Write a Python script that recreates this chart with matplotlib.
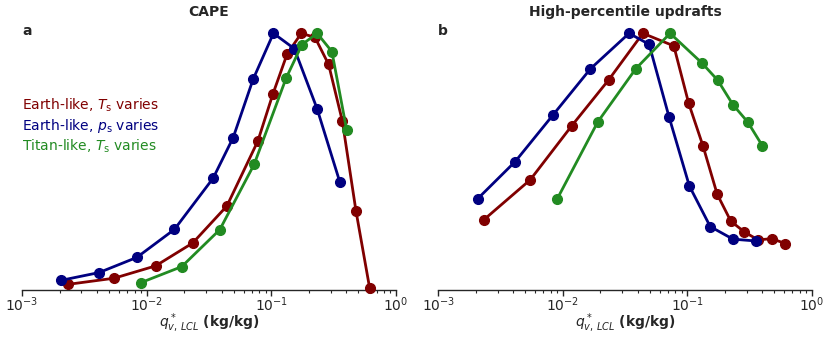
import matplotlib
matplotlib.use("Agg")
import matplotlib.pyplot as plt
import numpy as np

# x positions (q*_v,LCL, kg/kg)
x_earth_ts = [0.00233, 0.00548, 0.0118, 0.0234, 0.0440, 0.0780, 0.1028, 0.134, 0.174, 0.224, 0.288, 0.371, 0.477, 0.614]
x_earth_ps = [0.00207, 0.00415, 0.00834, 0.0167, 0.0341, 0.0494, 0.0714, 0.104, 0.153, 0.233, 0.355]
x_titan_ts = [0.00901, 0.0191, 0.0386, 0.0728, 0.1315, 0.176, 0.233, 0.306, 0.402]

# normalized CAPE
cape_earth_ts = [0.023, 0.047, 0.095, 0.184, 0.328, 0.581, 0.763, 0.920, 1.0, 0.984, 0.879, 0.659, 0.310, 0.010]
cape_earth_ps = [0.039, 0.069, 0.128, 0.237, 0.436, 0.594, 0.821, 1.0, 0.940, 0.706, 0.420]
cape_titan_ts = [0.030, 0.092, 0.236, 0.490, 0.826, 0.956, 1.0, 0.929, 0.624]

# normalized high-percentile updrafts
w_earth_ts = [0.275, 0.430, 0.640, 0.819, 1.0, 0.951, 0.727, 0.561, 0.374, 0.269, 0.227, 0.196, 0.201, 0.182]
w_earth_ps = [0.356, 0.501, 0.682, 0.862, 1.0, 0.957, 0.675, 0.406, 0.248, 0.199, 0.192]
w_titan_ts = [0.355, 0.655, 0.862, 1.0, 0.884, 0.817, 0.722, 0.655, 0.562]

labels = [r"Earth-like, $T_\mathrm{s}$ varies",
          r"Earth-like, $p_\mathrm{s}$ varies",
          r"Titan-like, $T_\mathrm{s}$ varies"]
colors = ["#800000", "#000080", "#228B22"]

fig = plt.figure(figsize=(8.3, 3.4), dpi=100)
W, H = 830, 340
bottom = (H - 290.3) / H
top = (H - 24) / H
ax1 = fig.add_axes([22 / W, bottom, (396 - 22) / W, top - bottom])
ax2 = fig.add_axes([438.3 / W, bottom, (811.7 - 438.3) / W, top - bottom])

textc = "#262626"
datasets = [
    (ax1, [cape_earth_ts, cape_earth_ps, cape_titan_ts], "CAPE", "a"),
    (ax2, [w_earth_ts, w_earth_ps, w_titan_ts], "High-percentile updrafts", "b"),
]
xs = [x_earth_ts, x_earth_ps, x_titan_ts]
for ax, ys, title, lab in datasets:
    for x, y, c in zip(xs, ys, colors):
        ax.plot(x, y, "-o", color=c, lw=2, ms=7, clip_on=False, zorder=3)
    ax.set_xscale("log")
    ax.set_xlim(1e-3, 1e0)
    ax.set_ylim(0, 266.3 / 257)
    for s in ["left", "top", "right"]:
        ax.spines[s].set_visible(False)
    ax.spines["bottom"].set_color(textc)
    ax.spines["bottom"].set_linewidth(1.0)
    ax.set_yticks([])
    ax.tick_params(axis="x", which="major", length=4, width=1, colors=textc, labelsize=10, pad=0)
    ax.tick_params(axis="x", which="minor", length=2, width=0.8, colors=textc)
    ax.set_title(title, fontsize=10, fontweight="bold", color=textc, pad=6)
    ax.text(0.0, 1.0, lab, transform=ax.transAxes, fontsize=10, fontweight="bold",
            color=textc, ha="left", va="top")
    ax.set_xlabel(r"$q^*_{v,\,LCL}$ (kg/kg)", fontsize=10, fontweight="bold", color=textc, labelpad=-2)

for i, (lbl, c) in enumerate(zip(labels, colors)):
    ax1.text(0.0, 0.695 - i * 0.078, lbl, transform=ax1.transAxes, color=c,
             fontsize=10, ha="left", va="center")

fig.savefig("out.png", dpi=100)
